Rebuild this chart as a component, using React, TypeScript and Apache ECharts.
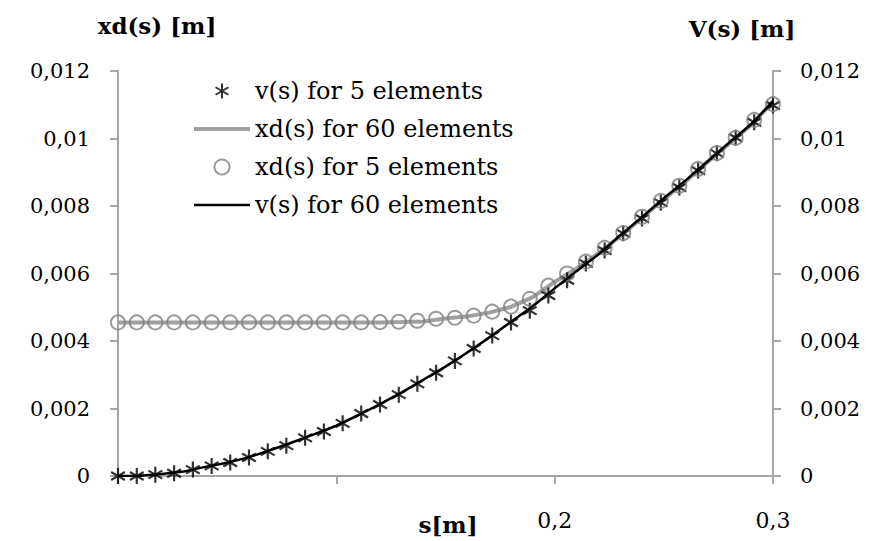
import React, { useEffect, useRef } from 'react';
import * as echarts from 'echarts';

// s positions of the 5-element solution (7 output points per element)
const s5 = [
  0, 0.0086, 0.0171, 0.0257, 0.0343, 0.0429, 0.0514, 0.06, 0.0686, 0.0771, 0.0857, 0.0943,
  0.1029, 0.1114, 0.12, 0.1286, 0.1371, 0.1457, 0.1543, 0.1629, 0.1714, 0.18, 0.1886, 0.1971,
  0.2057, 0.2143, 0.2229, 0.2314, 0.24, 0.2486, 0.2571, 0.2657, 0.2743, 0.2829, 0.2914, 0.3,
];
const v5 = [
  0, 0, 0.00004, 0.00008, 0.00019, 0.0003, 0.0004, 0.00055, 0.00073, 0.0009, 0.00113, 0.00132,
  0.00156, 0.00185, 0.00212, 0.00241, 0.00273, 0.00306, 0.00341, 0.00378, 0.00416, 0.00455,
  0.0049, 0.00535, 0.0058, 0.0063, 0.00668, 0.00719, 0.00763, 0.0081, 0.00855, 0.00905, 0.00956,
  0.01002, 0.01048, 0.01098,
];
const xd5 = [
  0.00455, 0.00455, 0.00455, 0.00455, 0.00455, 0.00455, 0.00455, 0.00455, 0.00455, 0.00455,
  0.00455, 0.00455, 0.00455, 0.00455, 0.00456, 0.00457, 0.0046, 0.00466, 0.00469, 0.00475,
  0.00487, 0.00502, 0.00525, 0.00564, 0.006, 0.00635, 0.00676, 0.0072, 0.00768, 0.00815,
  0.0086, 0.0091, 0.00957, 0.01002, 0.01055, 0.01102,
];

// s positions read for the 60-element curves
const s60 = [
  0, 0.01, 0.02, 0.03, 0.04, 0.05, 0.06, 0.07, 0.08, 0.09, 0.1, 0.11, 0.12, 0.13, 0.14, 0.15,
  0.16, 0.17, 0.18, 0.19, 0.2, 0.21, 0.22, 0.23, 0.24, 0.25, 0.26, 0.27, 0.28, 0.29, 0.3,
];
const v60 = [
  0, 0.00001, 0.00006, 0.00013, 0.00027, 0.00039, 0.00056, 0.00077, 0.001, 0.00124, 0.00149,
  0.0018, 0.00213, 0.00248, 0.00286, 0.00324, 0.00366, 0.0041, 0.00457, 0.00503, 0.00556,
  0.00607, 0.00656, 0.00713, 0.00767, 0.00823, 0.00876, 0.00932, 0.00988, 0.01042, 0.0111,
];
const xd60 = [
  0.00455, 0.00455, 0.00455, 0.00455, 0.00455, 0.00455, 0.00455, 0.00455, 0.00455, 0.00455,
  0.00455, 0.00455, 0.00455, 0.00456, 0.00458, 0.00467, 0.00473, 0.00484, 0.00501, 0.0053,
  0.00575, 0.00615, 0.0066, 0.0071, 0.00765, 0.0082, 0.00872, 0.0093, 0.00985, 0.0104, 0.0111,
];

const xLabelShown = [0.2, 0.3];
const seriesNames = [
  'v(s) for 5 elements',
  'xd(s) for 60 elements',
  'xd(s) for 5 elements',
  'v(s) for 60 elements',
];

const FONT = "'DejaVu Serif', 'Liberation Serif', serif";
const STAR = 'path://M5,0L5,10M0.7,2.5L9.3,7.5M0.7,7.5L9.3,2.5';

const fmt = (v: number) =>
  v === 0 ? '0' : String(parseFloat(v.toFixed(4))).replace('.', ',');

export default function App() {
  const ref = useRef<HTMLDivElement>(null);

  useEffect(() => {
    if (!ref.current) return;
    const chart = echarts.init(ref.current, undefined, { renderer: 'svg' });
    const axisLine = { show: true, lineStyle: { color: '#a6a6a6', width: 2 } };
    const axisTick = { show: true, length: 8, lineStyle: { color: '#a6a6a6', width: 2 } };
    const titleStyle = (text: string) => ({
      text,
      fontFamily: FONT,
      fontSize: 23,
      fontWeight: 'bold',
      fill: '#000',
      align: 'center',
      verticalAlign: 'middle',
      textAlign: 'center',
      textVerticalAlign: 'middle',
    });
    const noDot = { color: 'transparent', borderWidth: 0, borderColor: 'transparent' };
    chart.setOption({
      animation: false,
      backgroundColor: '#fff',
      grid: { left: 118, right: 113, top: 71, bottom: 65, containLabel: false },
      legend: {
        orient: 'vertical',
        left: 187,
        top: 74,
        itemWidth: 56,
        itemHeight: 15,
        itemGap: 14,
        data: [
          { name: seriesNames[0] },
          { name: seriesNames[1], itemStyle: noDot, lineStyle: { color: '#a0a0a0', width: 4 } },
          { name: seriesNames[2] },
          { name: seriesNames[3], itemStyle: noDot, lineStyle: { color: '#000', width: 2.5 } },
        ],
        textStyle: { fontFamily: FONT, fontSize: 24, color: '#000' },
      },
      xAxis: {
        type: 'value',
        min: 0,
        max: 0.3,
        interval: 0.1,
        axisLine,
        axisTick,
        splitLine: { show: false },
        axisLabel: {
          margin: 33,
          fontFamily: FONT,
          fontSize: 22,
          color: '#000',
          formatter: (v: number) =>
            xLabelShown.some((t) => Math.abs(t - v) < 1e-9) ? fmt(v) : '',
        },
      },
      yAxis: [
        {
          type: 'value',
          position: 'left',
          min: 0,
          max: 0.012,
          interval: 0.002,
          axisLine,
          axisTick,
          splitLine: { show: false },
          axisLabel: { margin: 28, fontFamily: FONT, fontSize: 21, color: '#000', formatter: fmt },
        },
        {
          type: 'value',
          position: 'right',
          min: 0,
          max: 0.012,
          interval: 0.002,
          axisLine,
          axisTick,
          splitLine: { show: false },
          axisLabel: { margin: 27, fontFamily: FONT, fontSize: 21, color: '#000', formatter: fmt },
        },
      ],
      graphic: [
        { type: 'text', x: 157, y: 25, style: titleStyle('xd(s) [m]') },
        { type: 'text', x: 742, y: 28, style: titleStyle('V(s) [m]') },
        { type: 'text', x: 448, y: 524, style: titleStyle('s[m]') },
      ],
      series: [
        {
          name: seriesNames[0],
          type: 'scatter',
          yAxisIndex: 1,
          symbol: STAR,
          symbolKeepAspect: true,
          symbolSize: 16,
          itemStyle: { color: 'transparent', borderColor: '#000', borderWidth: 2.2 },
          data: s5.map((s, i) => [s, v5[i]]),
          z: 3,
        },
        {
          name: seriesNames[1],
          type: 'line',
          yAxisIndex: 0,
          showSymbol: false,
          symbol: 'none',
          lineStyle: { color: '#a0a0a0', width: 4 },
          itemStyle: { color: '#a0a0a0' },
          data: s60.map((s, i) => [s, xd60[i]]),
          z: 2,
        },
        {
          name: seriesNames[2],
          type: 'scatter',
          yAxisIndex: 0,
          symbol: 'circle',
          symbolSize: 14,
          itemStyle: { color: 'transparent', borderColor: '#7f7f7f', borderWidth: 2 },
          data: s5.map((s, i) => [s, xd5[i]]),
          z: 3,
        },
        {
          name: seriesNames[3],
          type: 'line',
          yAxisIndex: 1,
          showSymbol: false,
          symbol: 'none',
          lineStyle: { color: '#000', width: 2.5 },
          itemStyle: { color: '#000' },
          data: s60.map((s, i) => [s, v60[i]]),
          z: 4,
        },
      ],
    });
    return () => chart.dispose();
  }, []);

  return (
    <div
      ref={ref}
      style={{ position: 'fixed', left: 0, top: 0, width: 886, height: 541, background: '#fff' }}
    />
  );
}
